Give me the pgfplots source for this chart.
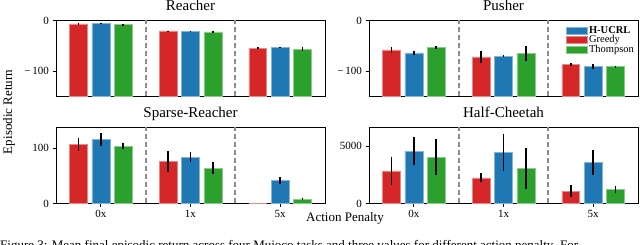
\documentclass[border=0pt]{standalone}
\usepackage{pgfplots}
\pgfplotsset{compat=1.18}
\usepackage{fontspec}
\setmainfont{Liberation Serif}
\definecolor{cred}{HTML}{D62728}
\definecolor{cblue}{HTML}{1F77B4}
\definecolor{cgreen}{HTML}{2CA02C}
\pgfplotsset{
  panel/.style={
    scale only axis, width=269pt, height=76pt,
    xmin=-0.5, xmax=2.5,
    ybar, bar width=0.2,
    axis line style={line width=0.8pt},
    tick style={line width=0.8pt, black},
    tick align=outside, xtick pos=bottom, ytick pos=left,
    major tick length=3.5pt,
    extra x ticks={0.5,1.5}, extra x tick labels={},
    extra x tick style={grid=major, major grid style={black!45, line width=1.8pt, dash pattern=on 5pt off 3pt}, major tick length=0pt},
    every axis title shift=0pt,
    title style={at={(0.5,1)}, anchor=base, yshift=10pt, font=\fontsize{15}{15}\selectfont},
    ticklabel style={font=\fontsize{11}{11}\selectfont},
    error bars/y dir=both, error bars/y explicit, error bars/error mark=none,
    error bars/error bar style={line width=1.8pt, black},
  },
  toprow/.style={xtick=\empty, ymin=-150, ymax=0, ytick={-100,0}, yticklabels={−\,100,0},
    y coord trafo/.code={\pgfmathparse{##1+150}},
    y coord inv trafo/.code={\pgfmathparse{##1-150}}},
  botrow/.style={xtick={0,1,2}, xticklabels={0x,1x,5x}},
  legpatch/.style={legend image code/.code={\fill[##1] (0pt,-3.5pt) rectangle (21pt,3.5pt);}},
  pr/.style={fill=cred, draw=cred!55!white, line width=0.5pt, bar shift=-0.25, legpatch},
  pb/.style={fill=cblue, draw=cblue!55!white, line width=0.5pt, bar shift=0, legpatch},
  pg/.style={fill=cgreen, draw=cgreen!55!white, line width=0.5pt, bar shift=0.25, legpatch},
}
\begin{document}
\begin{tikzpicture}[x=1pt,y=1pt]
\useasboundingbox (0,0) rectangle (640,245);
% Reacher
\begin{axis}[panel, toprow, at={(56pt,148.5pt)}, anchor=south west, title={Reacher}]
\addplot[pb] coordinates {(0,-5) +- (0,0.8) (1,-21.3) +- (0,1) (2,-53.3) +- (0,1)};
\addplot[pr] coordinates {(0,-6.6) +- (0,0.8) (1,-20.7) +- (0,0.8) (2,-54.7) +- (0,2)};
\addplot[pg] coordinates {(0,-8) +- (0,1.2) (1,-22.7) +- (0,1) (2,-56.7) +- (0,4)};
\end{axis}
% Pusher
\begin{axis}[panel, toprow, at={(369pt,148.5pt)}, anchor=south west, title={Pusher},
  legend style={at={(0.995,0.96)}, anchor=north east, draw=none, fill=none,
    font=\fontsize{10.5}{10.5}\selectfont, row sep=-3pt, inner sep=0.5pt},
  legend cell align=left]
\addplot[pb] coordinates {(0,-64) +- (0,4) (1,-71) +- (0,2) (2,-90) +- (0,5)};
\addplot[pr] coordinates {(0,-58) +- (0,6) (1,-72) +- (0,11) (2,-87) +- (0,3)};
\addplot[pg] coordinates {(0,-53) +- (0,3) (1,-65) +- (0,14) (2,-91) +- (0,2)};
\legend{\textbf{H-UCRL},Greedy,Thompson}
\end{axis}
% Sparse-Reacher
\begin{axis}[panel, botrow, at={(56pt,41.5pt)}, anchor=south west,
  title={Sparse-Reacher}, ymin=0, ymax=137, ytick={0,100}, yticklabels={0,100}]
\addplot[pb] coordinates {(0,115) +- (0,12) (1,83.4) +- (0,9) (2,41.8) +- (0,6)};
\addplot[pr] coordinates {(0,106.6) +- (0,12) (1,75.7) +- (0,19) (2,0) +- (0,0)};
\addplot[pg] coordinates {(0,103.6) +- (0,6) (1,63.8) +- (0,11) (2,7.8) +- (0,2)};
\end{axis}
% Half-Cheetah
\begin{axis}[panel, botrow, at={(369pt,41.5pt)}, anchor=south west,
  title={Half-Cheetah}, ymin=0, ymax=6646, ytick={0,5000}, yticklabels={0,5000},
  scaled y ticks=false]
\addplot[pb] coordinates {(0,4590) +- (0,1250) (1,4450) +- (0,1650) (2,3610) +- (0,1080)};
\addplot[pr] coordinates {(0,2860) +- (0,1230) (1,2250) +- (0,390) (2,1070) +- (0,520)};
\addplot[pg] coordinates {(0,4050) +- (0,1550) (1,3070) +- (0,1800) (2,1210) +- (0,300)};
\end{axis}
\node[rotate=90, font=\fontsize{13}{13}\selectfont] at (9,133) {Episodic Return};
\node[anchor=base, font=\fontsize{13}{13}\selectfont] at (345,23) {Action Penalty};
\begin{scope}
\clip (0,0) rectangle (640,245);
\node[anchor=base west, inner sep=0pt, font=\fontsize{13}{13}\selectfont] at (0,-5) {Figure 3: Mean final episodic return across four Mujoco tasks and three values for different action penalty. For};
\end{scope}
\end{tikzpicture}
\end{document}
